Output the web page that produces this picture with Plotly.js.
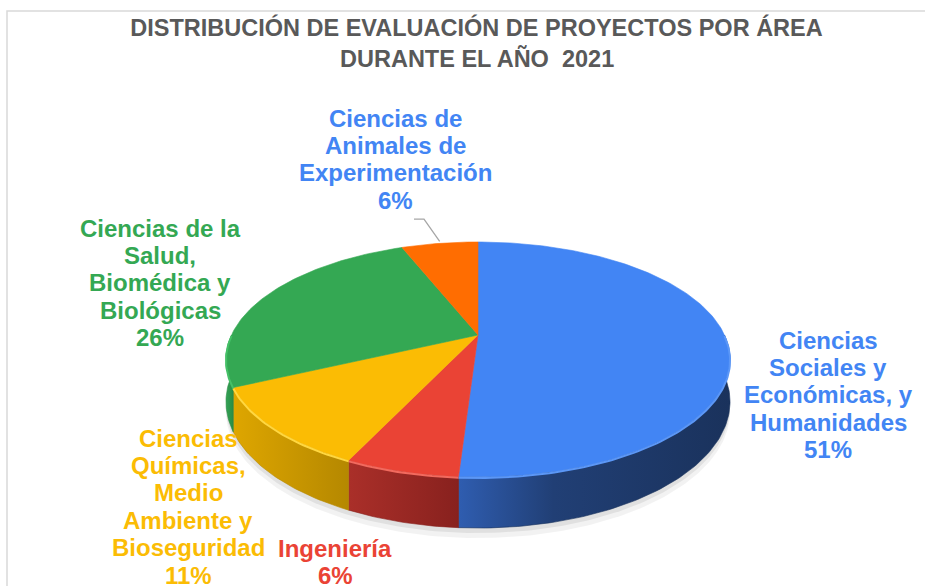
<!DOCTYPE html>
<html><head><meta charset="utf-8">
<script src="https://cdn.plot.ly/plotly-3.0.1.min.js"></script>
<style>html,body{margin:0;padding:0;background:#fff;overflow:hidden}</style>
</head><body><div id="chart" style="width:925px;height:586px"></div>
<script>
// ---- data ----
const categories = [
  "Ciencias Sociales y Económicas, y Humanidades",
  "Ingeniería",
  "Ciencias Químicas, Medio Ambiente y Bioseguridad",
  "Ciencias de la Salud, Biomédica y Biológicas",
  "Ciencias de Animales de Experimentación"
];
const values = [51, 6, 11, 26, 6];
const labelLines = [
  ["Ciencias", "Sociales y", "Económicas, y", "Humanidades"],
  ["Ingeniería"],
  ["Ciencias", "Químicas,", "Medio", "Ambiente y", "Bioseguridad"],
  ["Ciencias de la", "Salud,", "Biomédica y", "Biológicas"],
  ["Ciencias de", "Animales de", "Experimentación"]
];
const titleLines = ["DISTRIBUCIÓN DE EVALUACIÓN DE PROYECTOS POR ÁREA", "DURANTE EL AÑO  2021"];

// ---- styles ----
const faceColors = ["#4285f4", "#ea4335", "#fbbc04", "#34a853", "#ff6d01"];
const rimColors  = ["#5b97f7", "#f26a5e", "#ffd740", "#45c067", "#ff8a33"];
const wallScales = [
  [[0, "#2f5db0"], [0.35, "#213f75"], [1, "#1a325c"]],
  [[0, "#aa2f29"], [1, "#88211e"]],
  [[0, "#dea600"], [1, "#b58800"]],
  [[0, "#33a355"], [1, "#2a8c45"]],
  [[0, "#d95a00"], [1, "#c04f00"]]
];
const labelColors = ["#4285f4", "#ea4335", "#fbbc04", "#34a853", "#4285f4"];
// x centre and y of first line for each label block
const labelPos = [[828, 340], [335, 548], [188, 438], [160, 228], [395, 118]];
const LINE = 27.4;
const FONT = "Liberation Sans, Arial, sans-serif";

// ---- geometry (perspective pie) ----
const CX = 478, CY = 335, A = 246.5, B = 112.4, K = 0.2085, H0 = 40.4;
function rim(t, drop) {
  const u = Math.sin(t), w = Math.cos(t), d = 1 + K * w;
  return [CX + A * u / d, CY - B * w / d + drop * H0 / d];
}
function arc(a, b, drop, extra) {
  const pts = [];
  const n = Math.max(2, Math.ceil(Math.abs(b - a) / (Math.PI / 180)));
  for (let i = 0; i <= n; i++) {
    const t = a + (b - a) * i / n;
    const p = rim(t, drop);
    pts.push([p[0], p[1] + (extra || 0)]);
  }
  return pts;
}
const total = values.reduce((s, v) => s + v, 0);
const bounds = [];
let acc = 0;
values.forEach(v => { const a0 = acc / total * 2 * Math.PI; acc += v; bounds.push([a0, acc / total * 2 * Math.PI]); });

const traces = [];
function poly(pts, extra) {
  return Object.assign({
    type: "scatter", mode: "lines", x: pts.map(p => p[0]), y: pts.map(p => p[1]),
    fill: "toself", hoverinfo: "skip", showlegend: false
  }, extra);
}
// shadow
[[10, "rgba(0,0,0,0.05)"], [5, "rgba(0,0,0,0.07)"]].forEach(s => {
  traces.push(poly(arc(0, 2 * Math.PI, 1, s[0]), { fillcolor: s[1], line: { width: 0 } }));
});
// walls (front half)
bounds.forEach((bd, i) => {
  const a = Math.max(bd[0], Math.PI / 2), b = Math.min(bd[1], 3 * Math.PI / 2);
  if (b <= a) return;
  const pts = arc(a, b, 0).concat(arc(b, a, 1));
  pts.push(pts[0]);
  traces.push(poly(pts, {
    fillcolor: wallScales[i][0][1],
    fillgradient: { type: "horizontal", colorscale: wallScales[i] },
    line: { width: 0.6, color: wallScales[i][wallScales[i].length - 1][1] }
  }));
});
// top faces
bounds.forEach((bd, i) => {
  const pts = [[CX, CY]].concat(arc(bd[0], bd[1], 0));
  pts.push([CX, CY]);
  traces.push(poly(pts, { fillcolor: faceColors[i], line: { width: 0.6, color: faceColors[i] } }));
});
// rim highlight on the front edge
bounds.forEach((bd, i) => {
  const a = Math.max(bd[0], Math.PI / 2), b = Math.min(bd[1], 3 * Math.PI / 2);
  if (b <= a) return;
  const pts = arc(a, b, 0);
  traces.push({ type: "scatter", mode: "lines", x: pts.map(p => p[0]), y: pts.map(p => p[1] + 1),
    line: { width: 2, color: rimColors[i] }, hoverinfo: "skip", showlegend: false });
});

// labels: one annotation per line so the line spacing matches
const annotations = [];
values.forEach((v, i) => {
  const lines = labelLines[i].concat([Math.round(v / total * 100) + "%"]);
  lines.forEach((ln, j) => {
    annotations.push({
      x: labelPos[i][0], y: labelPos[i][1] + j * LINE, xref: "x", yref: "y",
      text: "<b>" + ln + "</b>", showarrow: false, xanchor: "center", yanchor: "middle",
      font: { family: FONT, size: 24, color: labelColors[i] }
    });
  });
});
// second title line
annotations.push({
  x: 476.5, y: 58, xref: "x", yref: "y", text: "<b>" + titleLines[1] + "</b>",
  showarrow: false, xanchor: "center", yanchor: "middle",
  font: { family: FONT, size: 23.5, color: "#595959" }
});
// leader line for the small top slice
{
  const i = 4, mid = (bounds[i][0] + bounds[i][1]) / 2, p = rim(mid, 0);
  const lx = labelPos[i][0] + 19, ly = labelPos[i][1] + labelLines[i].length * LINE + 19;
  traces.push({ type: "scatter", mode: "lines", x: [lx, lx + 10, p[0]], y: [ly, ly, p[1] - 2],
    line: { width: 1.3, color: "#a6a6a6" }, hoverinfo: "skip", showlegend: false });
}

const layout = {
  width: 925, height: 586,
  margin: { l: 0, r: 0, t: 0, b: 0 },
  paper_bgcolor: "#ffffff", plot_bgcolor: "#ffffff",
  xaxis: { range: [0, 925], visible: false, fixedrange: true },
  yaxis: { range: [586, 0], visible: false, fixedrange: true },
  title: {
    text: "<b>" + titleLines[0] + "</b>", x: 476.5 / 925, xanchor: "center",
    y: 1 - 28 / 586, yanchor: "middle", yref: "container",
    font: { family: FONT, size: 23.5, color: "#595959" }
  },
  shapes: [{ type: "rect", xref: "x", yref: "y", x0: 7, y0: 11, x1: 940, y1: 600,
    line: { color: "#d9d9d9", width: 1.5 }, fillcolor: "rgba(0,0,0,0)" }],
  annotations: annotations
};
Plotly.newPlot("chart", traces, layout, { staticPlot: true, displayModeBar: false });
</script>
</body></html>
